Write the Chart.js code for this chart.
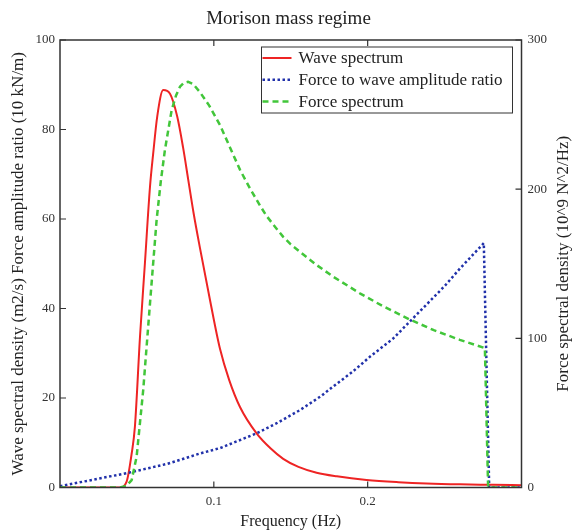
<!DOCTYPE html>
<html>
<head>
<meta charset="utf-8">
<script src="https://cdn.jsdelivr.net/npm/chart.js@4"></script>
<style>
  html, body { margin: 0; padding: 0; background: #fff; }
  #wrap { width: 577px; height: 532px; }
</style>
</head>
<body>
<div id="wrap"><canvas id="myChart" width="577" height="532"></canvas></div>
<script>
// values
const waveFreq = [0, 0.039, 0.0433, 0.0466, 0.0487, 0.052, 0.0552, 0.0585, 0.0606, 0.0632, 0.0671, 0.0715, 0.0762, 0.08, 0.0834, 0.087, 0.091, 0.0975, 0.104, 0.11, 0.117, 0.1278, 0.137, 0.1451, 0.155, 0.1668, 0.18, 0.1993, 0.22, 0.2383, 0.26, 0.2814, 0.3];
const waveSpectrum = [0, 0, 1.3, 7.6, 13.6, 33.7, 50.1, 67.2, 74.7, 82.9, 88.8, 88.0, 82.9, 76.0, 68.7, 61.0, 53.5, 41.9, 31.0, 24.0, 18.0, 12.1, 8.7, 6.4, 4.6, 3.3, 2.5, 1.7, 1.2, 0.9, 0.7, 0.6, 0.5];

const ratioFreq = [0, 0.0433, 0.07, 0.091, 0.104, 0.1278, 0.14, 0.156, 0.17, 0.1776, 0.19, 0.2014, 0.2166, 0.2383, 0.25, 0.2599, 0.2755, 0.279, 0.3];
const ratioValues = [0.3, 3.2, 5.3, 7.6, 8.8, 12.1, 14.2, 17.3, 20.5, 22.6, 25.8, 29.2, 33.3, 40.9, 45.0, 48.9, 54.6, 0, 0];

const forceFreq = [0, 0.039, 0.043, 0.0466, 0.0498, 0.0541, 0.0585, 0.0628, 0.0655, 0.0682, 0.0726, 0.0755, 0.078, 0.0805, 0.0834, 0.0865, 0.091, 0.097, 0.104, 0.1105, 0.117, 0.1235, 0.13, 0.1343, 0.14, 0.1451, 0.15, 0.156, 0.167, 0.1776, 0.1949, 0.21, 0.2274, 0.243, 0.2599, 0.2762, 0.2783, 0.3];
const forceSpectrum = [0, 0, 1.0, 5.0, 20.6, 65.4, 123.4, 179.3, 205.0, 226.3, 253.1, 263.0, 268.7, 271.2, 272.0, 270.5, 265.0, 256.0, 243.0, 228.0, 213.0, 200.5, 189.0, 182.0, 174.5, 168.0, 163.0, 158.0, 149.0, 141.3, 130.2, 121.5, 112.6, 105.5, 99.0, 93.5, 0, 0];

const xTicks = [0.1, 0.2];
const seriesNames = ["Wave spectrum", "Force to wave amplitude ratio", "Force spectrum"];
const rightTitle = "Force spectral density (10^9 N^2/Hz)";

const toPoints = (xs, ys) => xs.map((x, i) => ({ x: x, y: ys[i] }));

const SERIF = "'Liberation Serif', 'DejaVu Serif', serif";
const AXIS = "#333";

// frame, inward tick marks, right axis title and the boxed legend
const framePlugin = {
  id: "frame",
  afterDatasetsDraw(chart) {
    const { ctx, chartArea: a, scales } = chart;
    ctx.save();
    ctx.strokeStyle = AXIS;
    ctx.lineWidth = 1.5;
    ctx.strokeRect(a.left, a.top, a.right - a.left, a.bottom - a.top);
    ctx.lineWidth = 1.2;
    ctx.beginPath();
    scales.x.ticks.forEach((t) => {
      const px = scales.x.getPixelForValue(t.value);
      ctx.moveTo(px, a.bottom); ctx.lineTo(px, a.bottom - 6);
      ctx.moveTo(px, a.top); ctx.lineTo(px, a.top + 6);
    });
    scales.y.ticks.forEach((t) => {
      const py = scales.y.getPixelForValue(t.value);
      ctx.moveTo(a.left, py); ctx.lineTo(a.left + 6, py);
    });
    scales.y2.ticks.forEach((t) => {
      const py = scales.y2.getPixelForValue(t.value);
      ctx.moveTo(a.right, py); ctx.lineTo(a.right - 6, py);
    });
    ctx.stroke();

    // right axis title, read bottom to top like the left one
    ctx.save();
    ctx.translate(a.right + 42, (a.top + a.bottom) / 2);
    ctx.rotate(-Math.PI / 2);
    ctx.font = "17px " + SERIF;
    ctx.fillStyle = "#222";
    ctx.textAlign = "center";
    ctx.textBaseline = "middle";
    ctx.fillText(rightTitle, 0, 0);
    ctx.restore();

    // legend
    const bx = a.right - 260, by = a.top + 7, bw = 251, bh = 66;
    ctx.fillStyle = "#fff";
    ctx.fillRect(bx, by, bw, bh);
    ctx.lineWidth = 1;
    ctx.strokeRect(bx, by, bw, bh);
    ctx.font = "17px " + SERIF;
    ctx.textBaseline = "middle";
    chart.data.datasets.forEach((ds, i) => {
      const ry = by + 11 + i * 21.7;
      ctx.strokeStyle = ds.borderColor;
      ctx.lineWidth = ds.borderWidth;
      ctx.setLineDash(ds.borderDash || []);
      ctx.beginPath();
      ctx.moveTo(bx + 1, ry); ctx.lineTo(bx + 30, ry);
      ctx.stroke();
      ctx.setLineDash([]);
      ctx.fillStyle = "#222";
      ctx.fillText(ds.label, bx + 37, ry + 1);
    });
    ctx.restore();
  },
};

const ctx = document.getElementById("myChart").getContext("2d");

const myChart = new Chart(ctx, {
  type: "line",
  data: {
    datasets: [
      {
        label: seriesNames[0],
        data: toPoints(waveFreq, waveSpectrum),
        borderColor: "#ee2424",
        borderWidth: 2,
        cubicInterpolationMode: "monotone",
        yAxisID: "y",
        order: 3,
      },
      {
        label: seriesNames[1],
        data: toPoints(ratioFreq, ratioValues),
        borderColor: "#2131aa",
        borderWidth: 2.5,
        borderDash: [2.5, 2.5],
        yAxisID: "y",
        order: 2,
      },
      {
        label: seriesNames[2],
        data: toPoints(forceFreq, forceSpectrum),
        borderColor: "#42c63a",
        borderWidth: 2.5,
        borderDash: [6, 4],
        yAxisID: "y2",
        order: 1,
      },
    ],
  },
  plugins: [framePlugin],
  options: {
    responsive: false,
    animation: false,
    elements: {
      point: { radius: 0 },
      line: { tension: 0, fill: false, borderJoinStyle: "round" },
    },
    layout: { padding: 0 },
    scales: {
      x: {
        type: "linear",
        min: 0,
        max: 0.3,
        afterBuildTicks: (scale) => {
          scale.ticks = xTicks.map((v) => ({ value: v }));
        },
        afterFit: (scale) => { scale.height = 44.5; },
        grid: { display: false, drawTicks: false },
        border: { display: false },
        ticks: {
          padding: 6,
          color: AXIS,
          font: { family: SERIF, size: 13 },
          callback: (v) => String(v),
        },
        title: {
          display: true,
          text: "Frequency (Hz)",
          color: "#222",
          font: { family: SERIF, size: 16 },
          padding: { top: 0, bottom: 1 },
        },
      },
      y: {
        position: "left",
        min: 0,
        max: 100,
        afterFit: (scale) => { scale.width = 60; },
        grid: { display: false, drawTicks: false },
        border: { display: false },
        ticks: {
          stepSize: 20,
          padding: 5,
          color: AXIS,
          font: { family: SERIF, size: 13 },
        },
        title: {
          display: true,
          text: "Wave spectral density (m2/s) Force amplitude ratio (10 kN/m)",
          color: "#222",
          font: { family: SERIF, size: 17 },
          padding: { top: 8, bottom: 0 },
        },
      },
      y2: {
        position: "right",
        min: 0,
        max: 300,
        afterFit: (scale) => { scale.width = 55.5; },
        grid: { display: false, drawTicks: false },
        border: { display: false },
        ticks: {
          stepSize: 100,
          padding: 6,
          color: AXIS,
          font: { family: SERIF, size: 13 },
        },
        title: { display: false },
      },
    },
    plugins: {
      legend: { display: false },
      tooltip: { enabled: false },
      title: {
        display: true,
        text: "Morison mass regime",
        color: "#222",
        font: { family: SERIF, size: 19, weight: "normal" },
        padding: { top: 7.5, bottom: 9.7 },
      },
    },
  },
});
</script>
</body>
</html>
